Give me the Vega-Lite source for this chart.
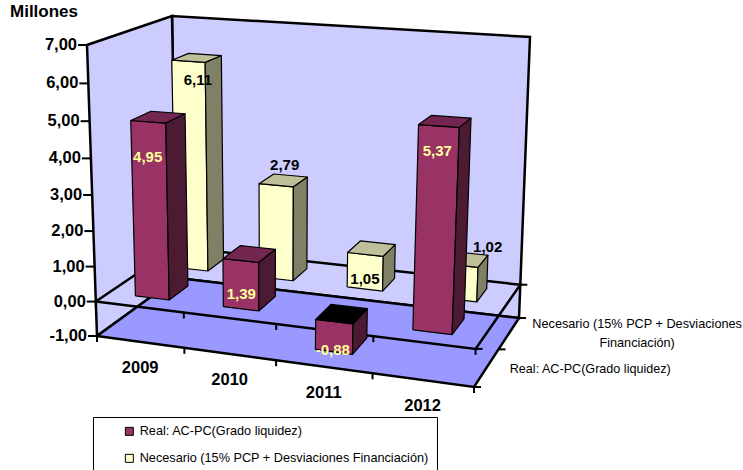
{
"$schema":"https://vega.github.io/schema/vega-lite/v6.json",
"width":743,"height":470,"autosize":{"type":"none"},"padding":0,"background":"white",
"config":{"view":{"stroke":null},"text":{"font":"Liberation Sans"}},
"title":{"text":"Millones","anchor":"start","frame":"group","orient":"top","offset":-21,"dx":10,"font":"Liberation Sans","fontSize":17,"fontWeight":"bold","color":"#000"},
"datasets":{
"bars":[
{"year":2009,"series":"Necesario (15% PCP + Desviaciones Financiación)","value":6.11},
{"year":2010,"series":"Necesario (15% PCP + Desviaciones Financiación)","value":2.79},
{"year":2011,"series":"Necesario (15% PCP + Desviaciones Financiación)","value":1.05},
{"year":2012,"series":"Necesario (15% PCP + Desviaciones Financiación)","value":1.02},
{"year":2009,"series":"Real: AC-PC(Grado liquidez)","value":4.95},
{"year":2010,"series":"Real: AC-PC(Grado liquidez)","value":1.39},
{"year":2011,"series":"Real: AC-PC(Grado liquidez)","value":-0.88},
{"year":2012,"series":"Real: AC-PC(Grado liquidez)","value":5.37}],
"planes":[{"plane":"back"},{"plane":"left"},{"plane":"floor"},{"plane":"zero"}],
"ticks":[
{"kind":"left","u":0,"v":0,"w":-1},{"kind":"left","u":0,"v":0,"w":0},{"kind":"left","u":0,"v":0,"w":1},{"kind":"left","u":0,"v":0,"w":2},{"kind":"left","u":0,"v":0,"w":3},{"kind":"left","u":0,"v":0,"w":4},{"kind":"left","u":0,"v":0,"w":5},{"kind":"left","u":0,"v":0,"w":6},{"kind":"left","u":0,"v":0,"w":7},
{"kind":"down","u":0,"v":0,"w":0},{"kind":"down","u":1,"v":0,"w":0},{"kind":"down","u":2,"v":0,"w":0},{"kind":"down","u":3,"v":0,"w":0},{"kind":"down","u":4,"v":0,"w":0},
{"kind":"down","u":0,"v":0,"w":-1},{"kind":"down","u":1,"v":0,"w":-1},{"kind":"down","u":2,"v":0,"w":-1},{"kind":"down","u":3,"v":0,"w":-1},{"kind":"down","u":4,"v":0,"w":-1},
{"kind":"right","u":4,"v":0,"w":0},{"kind":"right","u":4,"v":1,"w":0},{"kind":"right","u":4,"v":0,"w":-1},{"kind":"right","u":4,"v":0.5,"w":-1},{"kind":"right","u":4,"v":1,"w":-1}]
},
"encoding":{
"x":{"field":"X","type":"quantitative","scale":{"domain":[0,743],"nice":false,"zero":false},"axis":null},
"y":{"field":"Y","type":"quantitative","scale":{"domain":[0,470],"reverse":true,"nice":false,"zero":false},"axis":null}
},
"layer":[
{"data":{"name":"planes"},
"transform":[
{"calculate":"[0,1,2,3,4]","as":"i"},{"flatten":["i"]},
{"calculate":"[0,1,1,0,0][datum.i]","as":"a"},{"calculate":"[0,0,1,1,0][datum.i]","as":"b"},
{"calculate":"datum.plane=='left'?0:4*datum.a","as":"u"},
{"calculate":"datum.plane=='back'?1:datum.plane=='left'?datum.a:datum.b","as":"v"},
{"calculate":"datum.plane=='floor'?-1:datum.plane=='zero'?0:-1+8*datum.b","as":"w"},
{"calculate":"(datum.u/4)/(1+0.105*(1-datum.u/4))","as":"s"},
{"calculate":"1-(1-datum.v)/(1+0.2*datum.v)","as":"r"},
{"calculate":"((datum.w+1)/8)/(1+0.064*(1-(datum.w+1)/8))","as":"t"},
{"calculate":"(1-datum.t)*((1-datum.r)*((1-datum.s)*97+datum.s*474)+datum.r*((1-datum.s)*177+datum.s*519))+datum.t*((1-datum.r)*((1-datum.s)*87+datum.s*487)+datum.r*((1-datum.s)*172+datum.s*530))","as":"X"},
{"calculate":"(1-datum.t)*((1-datum.r)*((1-datum.s)*336+datum.s*387)+datum.r*((1-datum.s)*278+datum.s*318))+datum.t*((1-datum.r)*((1-datum.s)*45+datum.s*65)+datum.r*((1-datum.s)*16+datum.s*37))","as":"Y"}],
"mark":{"type":"line","stroke":"#000","strokeWidth":2.5,"strokeJoin":"miter"},
"encoding":{"order":{"field":"i"},"detail":{"field":"plane"},
"fill":{"field":"plane","type":"nominal","legend":null,"scale":{"domain":["back","left","floor","zero","Rfront","Rside","Rtop","Nfront","Nside","Ntop","dark"],"range":["#CCCCFF","#CCCCFF","#9999FF","transparent","#993366","#4D1A33","#732650","#FFFFCC","#808066","#BFBF99","#000000"]}}}},
{"data":{"name":"ticks"},
"transform":[
{"calculate":"(datum.u/4)/(1+0.105*(1-datum.u/4))","as":"s"},
{"calculate":"1-(1-datum.v)/(1+0.2*datum.v)","as":"r"},
{"calculate":"((datum.w+1)/8)/(1+0.064*(1-(datum.w+1)/8))","as":"t"},
{"calculate":"(1-datum.t)*((1-datum.r)*((1-datum.s)*97+datum.s*474)+datum.r*((1-datum.s)*177+datum.s*519))+datum.t*((1-datum.r)*((1-datum.s)*87+datum.s*487)+datum.r*((1-datum.s)*172+datum.s*530))","as":"X"},
{"calculate":"(1-datum.t)*((1-datum.r)*((1-datum.s)*336+datum.s*387)+datum.r*((1-datum.s)*278+datum.s*318))+datum.t*((1-datum.r)*((1-datum.s)*45+datum.s*65)+datum.r*((1-datum.s)*16+datum.s*37))","as":"Y"},
{"calculate":"datum.X+(datum.kind=='left'?-9:datum.kind=='right'?7:0)","as":"X2"},
{"calculate":"datum.Y+(datum.kind=='down'?6:0)","as":"Y2"}],
"mark":{"type":"rule","stroke":"#000","strokeWidth":2},
"encoding":{"x2":{"field":"X2"},"y2":{"field":"Y2"}}},
{"data":{"name":"ticks"},
"transform":[{"filter":"datum.kind=='left'"},
{"calculate":"((datum.w+1)/8)/(1+0.064*(1-(datum.w+1)/8))","as":"t"},
{"calculate":"(1-datum.t)*97+datum.t*87","as":"X"},
{"calculate":"(1-datum.t)*336+datum.t*45","as":"Y"},
{"calculate":"replace(replace(format(datum.w,'.2f'),'.',','),'\u2212','-')","as":"label"}],
"mark":{"type":"text","align":"right","baseline":"middle","dx":-10,"font":"Liberation Sans","fontSize":16.5,"fontWeight":"bold","color":"#000"},
"encoding":{"text":{"field":"label"}}},
{"data":{"name":"bars"},
"transform":[
{"calculate":"datum.year-2009","as":"idx"},
{"calculate":"datum.idx+0.31","as":"u0"},{"calculate":"datum.idx+0.70","as":"u1"},
{"calculate":"indexof(datum.series,'Real')==0?0.14:0.64","as":"v0"},{"calculate":"datum.v0+0.23","as":"v1"},
{"calculate":"min(0,datum.value)","as":"lo"},{"calculate":"max(0,datum.value)-0.04","as":"hi"},
{"calculate":"['front','side','top']","as":"face"},{"flatten":["face"]},
{"calculate":"[0,1,2,3,4]","as":"i"},{"flatten":["i"]},
{"calculate":"[0,1,1,0,0][datum.i]","as":"a"},{"calculate":"[0,0,1,1,0][datum.i]","as":"b"},
{"calculate":"datum.face=='side'?datum.u1:datum.u0+datum.a*(datum.u1-datum.u0)","as":"u"},
{"calculate":"datum.face=='side'?datum.v0+datum.a*(datum.v1-datum.v0):datum.face=='top'?datum.v0+datum.b*(datum.v1-datum.v0):datum.v0","as":"v"},
{"calculate":"datum.face=='top'?datum.hi:datum.lo+datum.b*(datum.hi-datum.lo)","as":"w"},
{"calculate":"(datum.value<0&&datum.face=='top')?'dark':(indexof(datum.series,'Real')==0?'R':'N')+datum.face","as":"shade"},
{"calculate":"datum.year+datum.series+datum.face","as":"key"},
{"calculate":"(datum.u/4)/(1+0.105*(1-datum.u/4))","as":"s"},
{"calculate":"1-(1-datum.v)/(1+0.2*datum.v)","as":"r"},
{"calculate":"((datum.w+1)/8)/(1+0.064*(1-(datum.w+1)/8))","as":"t"},
{"calculate":"(1-datum.t)*((1-datum.r)*((1-datum.s)*97+datum.s*474)+datum.r*((1-datum.s)*177+datum.s*519))+datum.t*((1-datum.r)*((1-datum.s)*87+datum.s*487)+datum.r*((1-datum.s)*172+datum.s*530))","as":"X"},
{"calculate":"(1-datum.t)*((1-datum.r)*((1-datum.s)*336+datum.s*387)+datum.r*((1-datum.s)*278+datum.s*318))+datum.t*((1-datum.r)*((1-datum.s)*45+datum.s*65)+datum.r*((1-datum.s)*16+datum.s*37))","as":"Y"}],
"mark":{"type":"line","stroke":"#000","strokeWidth":1.2,"strokeJoin":"round"},
"encoding":{"order":{"field":"i"},"detail":{"field":"key"},
"fill":{"field":"shade","type":"nominal","legend":null,"scale":{"domain":["back","left","floor","zero","Rfront","Rside","Rtop","Nfront","Nside","Ntop","dark"],"range":["#CCCCFF","#CCCCFF","#9999FF","transparent","#993366","#4D1A33","#732650","#FFFFCC","#808066","#BFBF99","#000000"]}}}},
{"data":{"name":"bars"},
"transform":[
{"calculate":"datum.year-2009+0.5","as":"u"},
{"calculate":"(datum.u/4)/(1+0.105*(1-datum.u/4))","as":"s"},
{"calculate":"(1-datum.s)*97+datum.s*474","as":"X"},
{"calculate":"(1-datum.s)*336+datum.s*387","as":"Y"},
{"filter":"indexof(datum.series,'Real')==0"}],
"mark":{"type":"text","baseline":"middle","dy":26,"font":"Liberation Sans","fontSize":16.5,"fontWeight":"bold","color":"#000"},
"encoding":{"text":{"field":"year","type":"nominal"}}},
{"data":{"name":"bars"},
"transform":[
{"filter":"datum.year==2009&&indexof(datum.series,'Nec')==0"},
{"calculate":"replace(datum.series,'Desviaciones ','Desviaciones\\n')","as":"label"},
{"calculate":"(1-0.625)*474+0.625*519","as":"X"},
{"calculate":"(1-0.625)*387+0.625*318","as":"Y"}],
"mark":{"type":"text","baseline":"middle","align":"center","lineBreak":"\n","lineHeight":19,"dx":135,"dy":-20,"font":"Liberation Sans","fontSize":12.7,"color":"#000"},
"encoding":{"text":{"field":"label"}}},
{"data":{"name":"bars"},
"transform":[
{"filter":"datum.year==2009&&indexof(datum.series,'Real')==0"},
{"calculate":"(1-0.25)*474+0.25*519","as":"X"},
{"calculate":"(1-0.25)*387+0.25*318","as":"Y"}],
"mark":{"type":"text","baseline":"middle","align":"center","dx":105,"dy":-1,"font":"Liberation Sans","fontSize":12.6,"color":"#000"},
"encoding":{"text":{"field":"series"}}},
{"data":{"name":"bars"},
"transform":[
{"calculate":"datum.year-2009+0.5","as":"u"},
{"calculate":"indexof(datum.series,'Real')==0?0.14:0.64","as":"v"},
{"calculate":"max(0,datum.value)","as":"w"},
{"calculate":"(datum.u/4)/(1+0.105*(1-datum.u/4))","as":"s"},
{"calculate":"1-(1-datum.v)/(1+0.2*datum.v)","as":"r"},
{"calculate":"((datum.w+1)/8)/(1+0.064*(1-(datum.w+1)/8))","as":"t"},
{"calculate":"(1-datum.t)*((1-datum.r)*((1-datum.s)*97+datum.s*474)+datum.r*((1-datum.s)*177+datum.s*519))+datum.t*((1-datum.r)*((1-datum.s)*87+datum.s*487)+datum.r*((1-datum.s)*172+datum.s*530))","as":"X0"},
{"calculate":"(1-datum.t)*((1-datum.r)*((1-datum.s)*336+datum.s*387)+datum.r*((1-datum.s)*278+datum.s*318))+datum.t*((1-datum.r)*((1-datum.s)*45+datum.s*65)+datum.r*((1-datum.s)*16+datum.s*37))","as":"Y0"},
{"calculate":"{'2009R':[0,37],'2010R':[1,35],'2011R':[-1,30],'2012R':[-1,27],'2009N':[10,20],'2010N':[9,-19],'2011N':[0,26],'2012N':[29,-17]}[datum.year+substring(datum.series,0,1)]","as":"off"},
{"calculate":"datum.X0+datum.off[0]","as":"X"},
{"calculate":"datum.Y0+datum.off[1]","as":"Y"},
{"calculate":"replace(replace(format(datum.value,'.2f'),'.',','),'\u2212','-')","as":"label"},
{"filter":"indexof(datum.series,'Real')==0"}],
"mark":{"type":"text","align":"center","baseline":"middle","font":"Liberation Sans","fontSize":15,"fontWeight":"bold","color":"#FFFF99"},
"encoding":{"text":{"field":"label"}}},
{"data":{"name":"bars"},
"transform":[
{"calculate":"datum.year-2009+0.5","as":"u"},
{"calculate":"indexof(datum.series,'Real')==0?0.14:0.64","as":"v"},
{"calculate":"max(0,datum.value)","as":"w"},
{"calculate":"(datum.u/4)/(1+0.105*(1-datum.u/4))","as":"s"},
{"calculate":"1-(1-datum.v)/(1+0.2*datum.v)","as":"r"},
{"calculate":"((datum.w+1)/8)/(1+0.064*(1-(datum.w+1)/8))","as":"t"},
{"calculate":"(1-datum.t)*((1-datum.r)*((1-datum.s)*97+datum.s*474)+datum.r*((1-datum.s)*177+datum.s*519))+datum.t*((1-datum.r)*((1-datum.s)*87+datum.s*487)+datum.r*((1-datum.s)*172+datum.s*530))","as":"X0"},
{"calculate":"(1-datum.t)*((1-datum.r)*((1-datum.s)*336+datum.s*387)+datum.r*((1-datum.s)*278+datum.s*318))+datum.t*((1-datum.r)*((1-datum.s)*45+datum.s*65)+datum.r*((1-datum.s)*16+datum.s*37))","as":"Y0"},
{"calculate":"{'2009R':[0,37],'2010R':[1,35],'2011R':[-1,30],'2012R':[-1,27],'2009N':[10,20],'2010N':[9,-19],'2011N':[0,26],'2012N':[29,-17]}[datum.year+substring(datum.series,0,1)]","as":"off"},
{"calculate":"datum.X0+datum.off[0]","as":"X"},
{"calculate":"datum.Y0+datum.off[1]","as":"Y"},
{"calculate":"replace(format(datum.value,'.2f'),'.',',')","as":"label"},
{"filter":"indexof(datum.series,'Nec')==0"}],
"mark":{"type":"text","align":"center","baseline":"middle","font":"Liberation Sans","fontSize":15,"fontWeight":"bold","color":"#000"},
"encoding":{"text":{"field":"label"}}},
{"data":{"name":"bars"},
"transform":[{"calculate":"0","as":"X"},{"calculate":"0","as":"Y"}],
"mark":{"type":"point","filled":true,"size":0},
"encoding":{"color":{"field":"series","type":"nominal","scale":{"domain":["Real: AC-PC(Grado liquidez)","Necesario (15% PCP + Desviaciones Financiación)"],"range":["#993366","#FFFFCC"]},
"legend":{"orient":"none","legendX":93,"legendY":417,"title":null,"padding":8,"strokeColor":"#000","fillColor":"#fff","symbolType":"square","symbolSize":64,"symbolStrokeColor":"#000","symbolStrokeWidth":1,"symbolOffset":22,"symbolOpacity":1,"rowPadding":13,"labelFont":"Liberation Sans","labelFontSize":12.7,"labelColor":"#000","labelLimit":500,"labelOffset":4,"labelExpr":"datum.label+'\u00a0\u00a0\u00a0\u00a0\u00a0\u00a0\u00a0\u00a0\u00a0\u00a0\u00a0'"}}}}
]
}
